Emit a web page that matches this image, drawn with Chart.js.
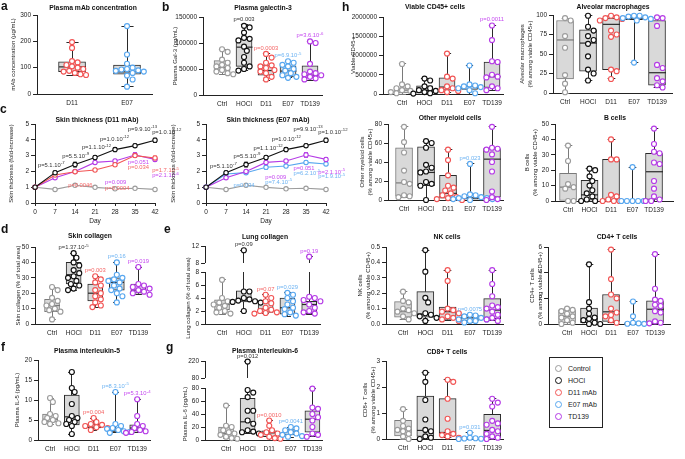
<!DOCTYPE html>
<html><head><meta charset="utf-8">
<script src="https://cdn.jsdelivr.net/npm/chart.js@4.4.1/dist/chart.umd.min.js"></script>
<style>
body{margin:0;width:685px;height:459px;position:relative;background:#fff;overflow:hidden;font-family:"Liberation Sans",Arial,sans-serif;color:#111}
canvas{position:absolute}
.t{position:absolute;font-weight:bold;font-size:6.8px;line-height:10px;white-space:nowrap;transform:translateX(-50%);color:#111}
.L{position:absolute;font-weight:bold;font-size:12px;line-height:14px}
</style></head><body>
<script>
// ---------------- DATA ----------------
const groups5 = ['Ctrl','HOCl','D11','E07','TD139'];
const groupsMab = ['D11','E07'];
const days = [0,7,14,21,28,35,42];

// a: plasma mAb concentration (µg/mL)
const mabPts = [[197,175,125,120,110,105,100,95,88,85,80,75,72],[258,150,115,100,95,93,90,88,85,80,70,55,28]];
const mabBox = [[72,85,103,122,197],[28,75,84,110,258]]; // min,q1,median,q3,max

// b: plasma galectin-3 (pg/mL)
const galPts = [[88000,83000,68000,62000,58000,55000,52000,48000,45000,42000,40000],
  [133000,130000,120000,110000,108000,105000,93000,85000,73000,62000,55000,50000,47000],
  [79000,72000,62000,57000,55000,52000,48000,45000,42000,35000,30000],
  [65000,62000,58000,55000,50000,47000,42000,38000,35000,33000],
  [103000,100000,60000,45000,42000,40000,38000,35000,32000,30000]];
const galBox = [[40000,46000,53000,66000,88000],[47000,55000,92000,107000,135000],[28000,38000,47000,58000,79000],[33000,35000,46000,56000,65000],[28000,33000,38000,56000,103000]];
const galP = [null,['p=0.003'],['p=0.0003'],['p=6.9.10','-5'],['p=3.6.10','-6']];

// c: skin thickness (fold-increase)
const thickCtrl = [1,0.86,1.12,0.99,0.9,0.93,0.86];
const thickHOCl = [1,1.92,2.43,2.88,3.38,3.63,3.97];
const thickD11 = [1,1.77,1.98,2.09,2.42,3.0,2.85];
const thickE07 = [1,1.84,1.92,2.26,2.34,2.57,2.47];
const thickTD139 = [1,1.6,2.0,2.57,2.66,3.04,2.76];
const errCtrl = [0,0.03,0.04,0.03,0.03,0.03,0.03];
const errHOCl = [0,0.1,0.15,0.12,0.13,0.1,0.13];
const errD11 = [0,0.09,0.08,0.08,0.1,0.12,0.12];
const errE07 = [0,0.1,0.08,0.12,0.1,0.1,0.1];
const errTD139 = [0,0.08,0.1,0.1,0.1,0.15,0.12];
// annotations: [day, value, text, exponent, group]
const thickPLeft = [[1,2.4,'p=5.1.10','-7','HOCl'],[9.5,2.98,'p=5.5.10','-9','HOCl'],[16.4,3.52,'p=1.1.10','-12','HOCl'],[22.7,4.08,'p=1.0.10','-12','HOCl'],[32.5,4.68,'p=9.9.10','-13','HOCl'],[41,4.5,'p=1.0.10','-12','HOCl'],
  [11.6,1.14,'p=0.0046','','D11'],[24.5,1.3,'p=0.009','','TD139'],[24.5,0.98,'p=0.0004','','D11'],[32.5,2.6,'p=0.051','','TD139'],[32.5,2.25,'p=0.034','','D11'],[41,2.08,'p=1.7.10','-5','D11'],[41,1.76,'p=2.1.10','-6','TD139']];
const thickPRight = [[1.4,2.36,'p=5.1.10','-7','HOCl'],[9.6,2.97,'p=5.5.10','-9','HOCl'],[16.6,3.5,'p=1.1.10','-12','HOCl'],[23,4.08,'p=1.0.10','-12','HOCl'],[30.6,4.68,'p=9.9.10','-13','HOCl'],[39.3,4.5,'p=1.0.10','-12','HOCl'],
  [9.6,1.14,'p=0.034','','E07'],[20.7,1.62,'p=0.009','','TD139'],[20.7,1.33,'p=7.4.10','-5','E07'],[30.6,2.23,'p=0.051','','TD139'],[30.6,1.92,'p=6.2.10','-5','E07'],[39.3,1.98,'p=2.1.10','-5','TD139'],[39.3,1.68,'p=1.9.10','-5','E07']];

// d: skin collagen (% of total area)
const scolPts = [[24,22,17,15,13,12,10,9,8,3],[46,43,40,38,35,33,31,30,28,26,25,23,22],[31,29,27,25,22,20,18,16,14,12,11],[40,32,30,29,28,27,25,23,22,20,18,14],[37,26,25,24,23,22,21,20,19]];
const scolBox = [[3,8,12,16,24],[22,26,32,40,46],[11,15,20,26,31],[14,22,27,30,40],[19,20,22,26,37]];
const scolP = [null,['p=1.37.10','-5'],['p=0.003'],['p=0.16'],['p=0.019']];

// e: lung collagen (% of total area)
const lcolPts = [[6.8,4,3.5,3.3,3,2.8,2.5,2,1.8,1.6],[11,5,5,4,3.8,3.6,3.5,3.4,3.3,2],[4.5,4,3.5,3.2,2.5,2.2,2,1.8,1.7,1.6],[4.8,4.5,4,3.5,3,2.5,2.3,1.8,1.5,1.3],[9.5,4.2,4,3.7,3.5,3,2.5,2,1.8,1.6]];
const lcolBox = [[1.5,2.2,3,3.7,6.8],[2,3.4,3.7,5.1,11],[1.6,1.8,2.3,3.5,4.5],[1.2,1.5,2.5,4,4.8],[1.5,1.6,3,3.5,9.5]];
const lcolP = [null,['p=0.09'],['p=0.07'],['p=0.029'],['p=0.19']];

// f: plasma IL-5 (pg/mL)
const il5Pts = [[10.5,9.5,6.5,6,5.5,5,4.5,4.2,4],[17,13,12,9,6,5.5,5,4.5,4,3.5,1.5],[5.5,4.5,4,3.8,3.5,3.2,3,2.5],[12,4,3.5,3,2.8,2.5,2.2,2,1.8],[10.2,6,4,3.5,3,2.5,2.2,2,1.8]];
const il5Box = [[4,4.5,5.2,6.5,10.5],[1.5,3.8,5.8,11.2,17],[2.5,3,3.2,4,5.5],[1.8,2,2.5,3,12],[1.8,2.2,3,3.8,10.2]];
const il5P = [null,null,['p=0.004'],['p=8.3.10','-5'],['p=5.3.10','-4']];

// g: plasma IL-6 (pg/mL)
const il6Pts = [[53,22,20,15,12,10,8,5,3,2],[215,77,73,66,45,45,30,25,15,13,12,10],[30,22,15,12,10,8,5,3,2],[20,18,15,12,10,8,6,5],[79,50,48,40,35,30,20,10,8,5]];
const il6Box = [[2,5,10,20,53],[10,13,28,64,215],[0,5,11,14,30],[4,8,13,16,20],[5,12,32,45,79]];
const il6P = [null,['p=0.012'],['p=0.0010'],['p=0.0041'],null];

// h: lung immune cells
const cd45Pts = [[780000,250000,200000,150000,100000,80000,50000,20000],[400000,350000,200000,150000,100000,80000,50000,20000,10000],[1050000,450000,400000,200000,150000,100000,80000,50000],[740000,250000,220000,200000,180000,150000,100000,20000],[1780000,1400000,850000,830000,500000,450000,430000,200000,150000,100000]];
const cd45Box = [[0,30000,100000,160000,780000],[0,30000,90000,210000,400000],[50000,100000,180000,420000,1050000],[0,120000,200000,230000,740000],[90000,170000,450000,830000,1780000]];
const cd45P = [null,null,null,null,['p=0.0011']];

const amPts = [[96,93,73,58,23,12,1],[99,85,80,73,68,63,47,30,25,16],[99,97,96,95,93,80,75,72,30,28,18],[99,99,98,97,96,95,93,39],[97,96,86,36,32,19,15,10,7]];
const amBox = [[0,18,68,93,96],[16,28,64,81,99],[18,30,88,96,99],[39,94,96,98,99],[7,10,26,93,97]];

const omPts = [[77,61,50,31,19,17,5,4,3],[62,60,55,37,34,30,29,19,17,15,0],[53,42,26,15,13,10,7,5,3,2,1,0],[38,6,5,4,3,2,2,1,1,0],[77,55,54,53,48,40,30,9,3,1,0]];
const omBox = [[3,4,18,55,77],[0,15,29,56,62],[0,2,7,26,53],[0,1,2,3,38],[0,3,43,54,77]];
const omP = [null,null,null,['p=0.023'],null];

const bPts = [[36,26,11,9,8,0,0],[21,20,16,13,10,7,5,3,1,0,0],[40,27,27,4,3,1,0,0,0],[22,0,0,0,0,0],[47,37,32,31,25,24,13,8,3,1,0,0]];
const bBox = [[0,0,9,18,36],[0,0.5,4,13.5,21],[0,0,1,27,40],[0,0,0,0,22],[0,1,19,31,47]];

const nkPts = [[0.21,0.15,0.14,0.1,0.09,0.08,0.07,0.05,0.03],[0.48,0.34,0.17,0.14,0.07,0.06,0.05,0.04,0.02],[0.35,0.28,0.1,0.09,0.08,0.07,0.05,0.04,0.03,0.02],[0.06,0.055,0.05,0.04,0.03,0.03,0.02,0.02,0.01],[0.35,0.26,0.18,0.12,0.11,0.1,0.08,0.06,0.04,0.03,0.02]];
const nkBox = [[0.03,0.045,0.08,0.145,0.21],[0.02,0.045,0.065,0.21,0.48],[0.02,0.03,0.08,0.11,0.35],[0.01,0.02,0.04,0.06,0.06],[0.02,0.035,0.09,0.165,0.35]];
const nkP = [null,null,null,['p=0.0075'],null];

const cd4Pts = [[1.2,1.1,1.0,0.8,0.6,0.5,0.3,0.1,0],[4.65,1.7,1.2,0.8,0.5,0.4,0.3,0.1,0,0],[5.8,3.5,2.3,2.0,1.2,0.9,0.7,0.6,0.3,0.1],[1.75,0.6,0.1,0.05,0.02,0.01],[5.45,2.75,1.9,1.8,1.5,1.4,1.0,0.9,0.2,0.1,0.05]];
const cd4Box = [[0,0.1,0.6,1.1,1.2],[0,0.1,0.4,1.25,4.65],[0.1,0.2,0.95,2.3,5.8],[0,0.02,0.05,0.1,1.75],[0.05,0.1,1.15,1.8,5.45]];

const cd8Pts = [[1.15,0.7,0.5,0.4,0.35,0.3,0.2,0.1,0],[2.55,2.2,1.5,0.75,0.35,0.3,0.1,0.05,0],[2.28,2.2,1.55,0.78,0.3,0.2,0.15,0.1,0.05],[0.24,0.05,0.03,0.02,0.01,0],[1.55,1.4,1.25,0.7,0.6,0.55,0.35,0.3,0.2,0.1,0.05,0]];
const cd8Box = [[0,0.12,0.38,0.72,1.15],[0,0.1,0.33,1.65,2.55],[0.05,0.12,0.25,1.55,2.28],[0,0,0.02,0.04,0.24],[0,0.05,0.33,0.95,1.55]];
const cd8P = [null,null,null,['p=0.031'],null];

const legendLabels = ['Control','HOCl','D11 mAb','E07 mAb','TD139'];

// ---------------- STYLE ----------------
const groupColor = {Ctrl:'#9c9c9c', HOCl:'#111111', D11:'#f25555', E07:'#58a7ef', TD139:'#b53be6'};
const pColor = {HOCl:'#333333', D11:'#f46565', E07:'#6db3f2', TD139:'#c548f0'};
const boxEdge = g => g==='Ctrl' ? '#7a7a7a' : '#2a2a2a';
const FF = '"Liberation Sans", Arial, sans-serif';
const TICK = 6.5, YT = 6, YTLH = 1.35;
Chart.defaults.font.family = FF;
Chart.defaults.font.size = TICK;
Chart.defaults.color = '#222';
Chart.defaults.animation = false;
Chart.defaults.plugins.legend.display = false;
Chart.defaults.plugins.tooltip.enabled = false;

function mkCanvas(l,t,w,h){
  const c=document.createElement('canvas');
  c.width=w;c.height=h;c.style.left=l+'px';c.style.top=t+'px';c.style.width=w+'px';c.style.height=h+'px';
  document.body.appendChild(c);return c;
}
function drawP(ctx,x,y,txt,sup,color,align){
  ctx.save();ctx.fillStyle=color;ctx.textBaseline='alphabetic';ctx.textAlign='left';
  const f1='5.8px '+FF,f2='4.3px '+FF;
  ctx.font=f1;const w1=ctx.measureText(txt).width;
  ctx.font=f2;const w2=sup?ctx.measureText(sup).width+0.3:0;
  const x0=align==='center'?x-(w1+w2)/2:x;
  ctx.font=f1;ctx.fillText(txt,x0,y);
  if(sup){ctx.font=f2;ctx.fillText(sup,x0+w1+0.3,y-2.6);}
  ctx.restore();
}
function swarm(vals,pxY,d){
  const idx=vals.map((v,i)=>i).sort((a,b)=>vals[b]-vals[a]);
  const cands=[0];for(let k=1;k<16;k++){cands.push(k*d*0.5,-k*d*0.5);}
  const placed=[],off=new Array(vals.length).fill(0);
  for(const i of idx){
    const y=vals[i]*pxY;
    for(const c of cands){
      if(placed.every(p=>(p.x-c)**2+(p.y-y)**2>=d*d*0.75)){off[i]=c;placed.push({x:c,y});break;}
    }
  }
  return off;
}
const alignPx=(p)=>Math.round(p-0.5)+0.5;
const yTitleOff=(YT*YTLH)/2;

function boxChart(cfg){
  const [l,t,r,b]=cfg.area;
  const canvasL=cfg.tx-yTitleOff, yw=l-canvasL;
  const padT=18,xh=16,padB=2,padR=cfg.padR||20;
  const W=Math.round(yw+(r-l)+padR),H=Math.round(padT+(b-t)+xh+padB);
  const cv=mkCanvas(canvasL,t-padT,W,H);
  const xmin=-(cfg.c0-l)/cfg.s,xmax=(r-cfg.c0)/cfg.s;
  const brk=cfg.brk;
  const lowTop=brk?brk.lowTop:t;
  const [ymin,ymax,ystep]=cfg.y;
  const pxY=(b-lowTop)/(ymax-ymin);
  const d=5.6;
  const low=[],up=[],lowC=[],upC=[];
  cfg.pts.forEach((vals,i)=>{
    const col=groupColor[cfg.cats[i]];
    const lv=vals.filter(v=>!brk||v<=ymax),uv=vals.filter(v=>brk&&v>ymax);
    const lo=swarm(lv,pxY,d);
    lv.forEach((v,k)=>{low.push({x:i+lo[k]/cfg.s,y:v});lowC.push(col);});
    if(uv.length){
      const pxU=(brk.upMinPx-t)/(brk.up[1]-brk.up[0]);
      const uo=swarm(uv,pxU,d);
      uv.forEach((v,k)=>{up.push({x:i+uo[k]/cfg.s,y:v});upC.push(col);});
    }
  });
  const fmt=cfg.fmt||(v=>String(v));
  const yScale={type:'linear',position:'left',min:ymin,max:ymax,
    afterBuildTicks:s=>{const a=[];for(let v=ymin;v<=ymax+1e-9;v+=ystep)a.push({value:+v.toFixed(6)});s.ticks=a;},
    ticks:{callback:v=>fmt(v),padding:2,autoSkip:false,font:{size:TICK},color:'#222'},
    grid:{drawOnChartArea:false,drawTicks:true,tickLength:4,color:'#222'},
    border:{color:'#222',width:1},
    title:{display:true,text:cfg.title,font:{size:YT,lineHeight:YTLH},padding:0,color:'#222'},
    afterFit:s=>{s.width=yw;}};
  const scales={};
  scales.x={type:'linear',min:xmin,max:xmax,offset:false,
    afterBuildTicks:s=>{s.ticks=cfg.cats.map((c,i)=>({value:i}));},
    ticks:{callback:v=>cfg.cats[v]??'',padding:5,autoSkip:false,maxRotation:0,font:{size:TICK},color:'#222'},
    grid:{display:true,drawOnChartArea:false,drawTicks:false,offset:false},
    border:{display:true,color:'#222',width:1},
    afterFit:s=>{s.height=xh;}};
  if(brk){
    const pxU=(brk.upMinPx-t)/(brk.up[1]-brk.up[0]);
    const y2min=brk.up[0]-(lowTop-brk.upMinPx)/pxU;
    yScale.stack='s';yScale.stackWeight=b-lowTop;
    scales.y=yScale;
    scales.y2={type:'linear',position:'left',stack:'s',stackWeight:lowTop-t,min:y2min,max:brk.up[1],
      afterBuildTicks:s=>{s.ticks=brk.up.map(v=>({value:v}));},
      ticks:{callback:v=>fmt(v),padding:2,autoSkip:false,font:{size:TICK},color:'#222'},
      grid:{drawOnChartArea:false,drawTicks:true,tickLength:4,color:'#222'},
      border:{display:false},title:{display:false},afterFit:s=>{s.width=yw;}};
  } else scales.y=yScale;
  const datasets=[{type:'scatter',data:low,yAxisID:'y',pointRadius:2.5,pointBorderWidth:1.15,pointBorderColor:lowC,pointBackgroundColor:'#fff',clip:false}];
  if(brk)datasets.push({type:'scatter',data:up,yAxisID:'y2',pointRadius:2.5,pointBorderWidth:1.15,pointBorderColor:upC,pointBackgroundColor:'#fff',clip:false});
  const barIdx=datasets.length;
  datasets.push({type:'bar',data:cfg.box.map((q,i)=>({x:i,y:[q[1],q[3]]})),yAxisID:'y',barThickness:cfg.bw,
    backgroundColor:'#d9d9d9',borderColor:cfg.cats.map(boxEdge),borderWidth:1,borderSkipped:false,clip:false});
  const bw=cfg.bw,cap=Math.max(6,bw*0.45);
  const plug={id:'bx',
    afterDatasetDraw(chart,args){
      if(args.index!==barIdx)return;
      const ctx=chart.ctx,x=chart.scales.x,y=chart.scales.y,y2=chart.scales.y2;
      const Pv=v=>(brk&&v>ymax)?y2.getPixelForValue(v):y.getPixelForValue(v);
      const seg=(x1,y1,x2,y2_)=>{ctx.beginPath();ctx.moveTo(x1,y1);ctx.lineTo(x2,y2_);ctx.stroke();};
      cfg.box.forEach((q,i)=>{
        const cx=alignPx(x.getPixelForValue(i));
        ctx.save();ctx.strokeStyle=boxEdge(cfg.cats[i]);ctx.lineWidth=1;
        seg(cx,Pv(q[0]),cx,Pv(q[1]));
        if(brk&&q[4]>ymax){seg(cx,y.getPixelForValue(q[3]),cx,y.getPixelForValue(ymax));seg(cx,y2.getPixelForValue(brk.up[0]),cx,y2.getPixelForValue(q[4]));}
        else seg(cx,Pv(q[3]),cx,Pv(q[4]));
        seg(cx-cap/2,alignPx(Pv(q[0])),cx+cap/2,alignPx(Pv(q[0])));
        seg(cx-cap/2,alignPx(Pv(q[4])),cx+cap/2,alignPx(Pv(q[4])));
        ctx.lineWidth=1.2;
        seg(cx-bw/2,Pv(q[2]),cx+bw/2,Pv(q[2]));
        ctx.restore();
      });
    },
    afterDraw(chart){
      const ctx=chart.ctx,x=chart.scales.x,y=chart.scales.y,y2=chart.scales.y2;
      if(brk){
        ctx.save();ctx.strokeStyle='#222';ctx.lineWidth=1;
        const ax=alignPx(chart.chartArea.left);
        ctx.beginPath();ctx.moveTo(ax,y2.getPixelForValue(brk.up[0]));ctx.lineTo(ax,y2.getPixelForValue(brk.up[1]));ctx.stroke();
        ctx.restore();
      }
      if(cfg.pl)cfg.pl.forEach((p,i)=>{
        if(!p)return;
        const mx=cfg.box[i][4];
        const py=(brk&&mx>ymax)?y2.getPixelForValue(mx):y.getPixelForValue(mx);
        drawP(ctx,x.getPixelForValue(i),py-4,p[0],p[1],pColor[cfg.cats[i]],'center');
      });
    }};
  new Chart(cv,{type:'scatter',data:{datasets},options:{responsive:false,maintainAspectRatio:false,devicePixelRatio:1,animation:false,
    layout:{autoPadding:false,padding:{left:0,right:padR,top:padT,bottom:padB}},scales,
    plugins:{legend:{display:false},tooltip:{enabled:false}}},plugins:[plug]});
}

function lineChart(cfg){
  const [l,t,r,b]=cfg.area;
  const canvasL=cfg.tx-yTitleOff,yw=l-canvasL;
  const padT=10,xh=22,padB=2,padR=cfg.padR;
  const W=Math.round(yw+(r-l)+padR),H=Math.round(padT+(b-t)+xh+padB);
  const cv=mkCanvas(canvasL,t-padT,W,H);
  const datasets=cfg.series.map(s=>({type:'line',data:days.map((dd,i)=>({x:dd,y:s.v[i]})),err:s.e,
    borderColor:groupColor[s.g],borderWidth:1.1,pointRadius:2.2,pointBorderWidth:1.1,pointBorderColor:groupColor[s.g],pointBackgroundColor:'#fff',clip:false,tension:0}));
  const plug={id:'ln',
    beforeDatasetsDraw(chart){
      const ctx=chart.ctx,x=chart.scales.x,y=chart.scales.y;
      chart.data.datasets.forEach(ds=>{
        ctx.save();ctx.strokeStyle=ds.borderColor;ctx.lineWidth=1;
        ds.data.forEach((p,i)=>{const e=ds.err[i];if(!e)return;const px=x.getPixelForValue(p.x);
          const a=y.getPixelForValue(p.y+e),c=y.getPixelForValue(p.y-e);
          ctx.beginPath();ctx.moveTo(px,a);ctx.lineTo(px,c);ctx.moveTo(px-2,a);ctx.lineTo(px+2,a);ctx.moveTo(px-2,c);ctx.lineTo(px+2,c);ctx.stroke();});
        ctx.restore();
      });
    },
    afterDraw(chart){
      const ctx=chart.ctx,x=chart.scales.x,y=chart.scales.y;
      cfg.notes.forEach(n=>drawP(ctx,x.getPixelForValue(n[0]),y.getPixelForValue(n[1])+2,n[2],n[3],pColor[n[4]],'left'));
    }};
  new Chart(cv,{type:'line',data:{datasets},options:{responsive:false,maintainAspectRatio:false,devicePixelRatio:1,animation:false,
    layout:{autoPadding:false,padding:{left:0,right:padR,top:padT,bottom:padB}},
    scales:{
      x:{type:'linear',min:0,max:42,afterBuildTicks:s=>{s.ticks=days.map(v=>({value:v}));},
        ticks:{callback:v=>String(v),padding:2,autoSkip:false,font:{size:TICK},color:'#222',maxRotation:0},
        grid:{drawOnChartArea:false,drawTicks:true,tickLength:3,color:'#222'},border:{color:'#222',width:1},
        title:{display:true,text:'Day',font:{size:6.5},padding:{top:2,bottom:0},color:'#222'},afterFit:s=>{s.height=xh;}},
      y:{type:'linear',min:0,max:5,afterBuildTicks:s=>{s.ticks=[0,1,2,3,4,5].map(v=>({value:v}));},
        ticks:{callback:v=>String(v),padding:2,autoSkip:false,font:{size:TICK},color:'#222'},
        grid:{drawOnChartArea:false,drawTicks:true,tickLength:4,color:'#222'},border:{color:'#222',width:1},
        title:{display:true,text:'Skin thickness (fold-increase)',font:{size:YT,lineHeight:YTLH},padding:0,color:'#222'},afterFit:s=>{s.width=yw;}}
    },plugins:{legend:{display:false},tooltip:{enabled:false}}},plugins:[plug]});
}

// ---------------- PANELS ----------------
const fmtNK=v=>v.toFixed(1);
boxChart({cats:groupsMab,pts:mabPts,box:mabBox,pl:null,area:[37,15,152,94],c0:72,s:55,bw:27,tx:13,y:[0,300,100],title:'mAb concentration (µg/mL)'});
boxChart({cats:groups5,pts:galPts,box:galBox,pl:galP,area:[203,17,322,95],c0:222,s:22,bw:16,tx:175,y:[0,150000,50000],title:'Plasma Gal-3 (pg/mL)'});
lineChart({area:[35,124,155,203],tx:11,padR:32,notes:thickPLeft,series:[{g:'HOCl',v:thickHOCl,e:errHOCl},{g:'D11',v:thickD11,e:errD11},{g:'TD139',v:thickTD139,e:errTD139},{g:'Ctrl',v:thickCtrl,e:errCtrl}]});
lineChart({area:[206,124,326,203],tx:173,padR:30,notes:thickPRight,series:[{g:'HOCl',v:thickHOCl,e:errHOCl},{g:'TD139',v:thickTD139,e:errTD139},{g:'E07',v:thickE07,e:errE07},{g:'Ctrl',v:thickCtrl,e:errCtrl}]});
boxChart({cats:groups5,pts:scolPts,box:scolBox,pl:scolP,area:[35,247,150,324],c0:52,s:21.6,bw:15,tx:18,y:[0,50,10],title:'Skin collagen (% of total area)'});
boxChart({cats:groups5,pts:lcolPts,box:lcolBox,pl:lcolP,area:[205,246,320,324],c0:222,s:21.8,bw:15,tx:188,y:[0,8,2],brk:{lowTop:272,upMinPx:263,up:[8,12]},title:'Lung collagen (% of total area)'});
boxChart({cats:groups5,pts:il5Pts,box:il5Box,pl:il5P,area:[38,360,150,440],c0:50,s:21.8,bw:15,tx:17,y:[0,20,5],title:'Plasma IL-5 (pg/mL)'});
boxChart({cats:groups5,pts:il6Pts,box:il6Box,pl:il6P,area:[205,361,322,440],c0:226,s:21.6,bw:15,tx:185,y:[0,80,20],brk:{lowTop:388,upMinPx:378,up:[80,220]},title:'Plasma IL-6 (pg/mL)'});
boxChart({cats:groups5,pts:cd45Pts,box:cd45Box,pl:cd45P,area:[383,17,503,94],c0:402,s:22.5,bw:16,tx:353,y:[0,2000000,500000],title:'Viable CD45+'});
boxChart({cats:groups5,pts:amPts,box:amBox,pl:null,area:[553,15,672,93],c0:565,s:23,bw:17,tx:522,padR:10,y:[0,100,25],title:['Alveolar macrophages','(% among viable CD45+)']});
boxChart({cats:groups5,pts:omPts,box:omBox,pl:omP,area:[388,124,503,200],c0:404,s:22,bw:17,tx:362,y:[0,80,20],title:['Other myeloid cells','(% among viable CD45+)']});
boxChart({cats:groups5,pts:bPts,box:bBox,pl:null,area:[555,124,673,201],c0:568,s:21.5,bw:17,tx:527,padR:10,y:[0,50,10],title:['B cells','(% among viable CD45+)']});
boxChart({cats:groups5,pts:nkPts,box:nkBox,pl:nkP,area:[386,247,503,324],c0:403,s:22.3,bw:17,tx:360,y:[0,0.5,0.1],fmt:fmtNK,title:['NK cells','(% among viable CD45+)']});
boxChart({cats:groups5,pts:cd4Pts,box:cd4Box,pl:null,area:[548,247,670,324],c0:567,s:22,bw:17,tx:532,padR:12,y:[0,6,2],title:['CD4+ T cells','(% among viable CD45+)']});
boxChart({cats:groups5,pts:cd8Pts,box:cd8Box,pl:cd8P,area:[386,361,503,439],c0:403,s:22.3,bw:17,tx:365,y:[0,3,1],title:['CD8+ T cells','(% among viable CD45+)']});

// ---------------- TEXT ----------------
const titles=[['Plasma mAb concentration',93,8],['Plasma galectin-3',263,8],['Skin thickness (D11 mAb)',97,120],['Skin thickness (E07 mAb)',268,120],
 ['Skin collagen',90,236],['Lung collagen',265,237],['Plasma interleukin-5',87,351],['Plasma interleukin-6',265,351],
 ['Viable CD45+ cells',435,7],['Alveolar macrophages',613,7],['Other myeloid cells',450,118],['B cells',615,118],
 ['NK cells',447,237],['CD4+ T cells',617,237],['CD8+ T cells',447,352]];
titles.forEach(([s,x,y])=>{const d=document.createElement('div');d.className='t';d.textContent=s;d.style.left=x+'px';d.style.top=(y-5)+'px';document.body.appendChild(d);});
const letters=[['a',5,7],['b',166,8],['c',4,110],['d',5,230],['e',168,230],['f',5,348],['g',170,348],['h',346,8]];
letters.forEach(([s,x,y])=>{const d=document.createElement('div');d.className='L';d.textContent=s;d.style.left=(x-4)+'px';d.style.top=(y-8)+'px';document.body.appendChild(d);});

const leg=document.createElement('div');
leg.style.cssText='position:absolute;left:549px;top:357px;width:54px;height:71px;border:1px solid #222;box-sizing:border-box;';
legendLabels.forEach((lab,i)=>{
  const row=document.createElement('div');
  row.style.cssText=`position:absolute;left:5px;top:${6+i*12}px;height:10px;line-height:10px;font-size:7px;white-space:nowrap;color:#222`;
  row.innerHTML=`<span style="display:inline-block;width:5px;height:5px;border:1.2px solid ${groupColor[groups5[i]]};border-radius:50%;vertical-align:middle;margin:-2px 6px 0 0"></span>${lab}`;
  leg.appendChild(row);
});
document.body.appendChild(leg);
</script>
</body></html>
